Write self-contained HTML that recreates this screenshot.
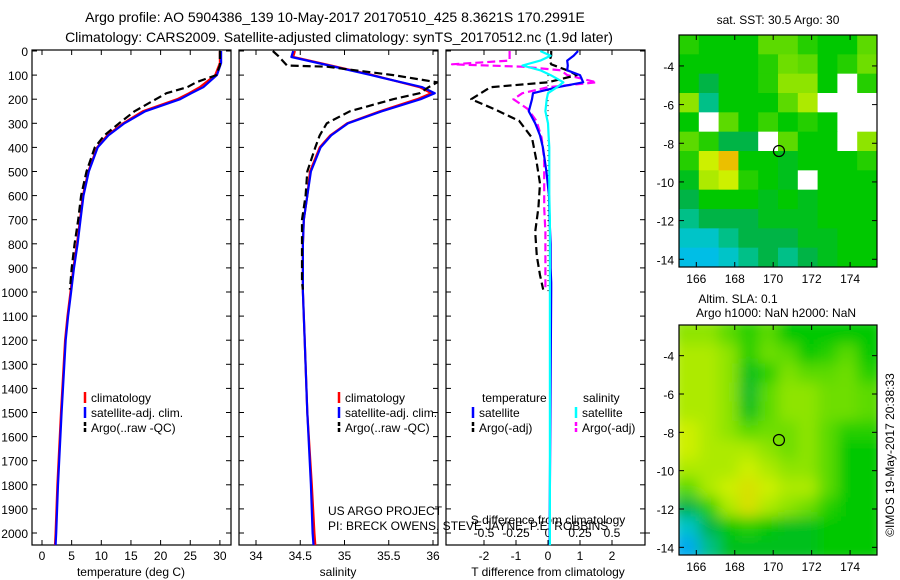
<!DOCTYPE html>
<html><head><meta charset="utf-8"><style>
body{margin:0;background:#fff;}
svg{display:block;font-family:"Liberation Sans",sans-serif;}
text{fill:#000;}
</style></head><body>
<svg id="chart" width="900" height="580" viewBox="0 0 900 580">
<text x="335" y="22" font-size="14" text-anchor="middle">Argo profile: AO 5904386_139 10-May-2017 20170510_425 8.3621S 170.2991E</text>
<text x="339" y="42" font-size="14" text-anchor="middle">Climatology: CARS2009. Satellite-adjusted climatology: synTS_20170512.nc (1.9d later)</text>
<g id="g"></g>
</svg>
<script>
// ---- data ----
var depthClim = [0,25,50,100,150,175,200,250,300,350,400,500,600,700,800,900,1000,1100,1200,1500,1800,2000,2050];
var tempClim  = [30,30,30,29.2,26.6,24.8,22.8,17,13.7,11,9.3,7.8,6.9,6.4,5.9,5.3,4.8,4.3,3.9,3.2,2.6,2.3,2.2];
var tempSat   = [30.2,30.2,30.2,29.5,27.2,25.2,23.3,17.4,13.9,11.2,9.4,7.9,7.0,6.5,6.0,5.4,4.9,4.4,4.0,3.3,2.7,2.4,2.3];
var salClim   = [34.44,34.42,34.72,35.32,35.85,35.98,35.82,35.4,35.03,34.84,34.72,34.61,34.58,34.54,34.53,34.53,34.53,34.54,34.55,34.58,34.63,34.66,34.67];
var salSat    = [34.42,34.40,34.70,35.30,35.88,36.02,35.86,35.42,35.04,34.85,34.73,34.62,34.58,34.54,34.53,34.53,34.53,34.54,34.55,34.58,34.62,34.64,34.65];
var depthArgo = [0,20,40,60,65,100,130,150,175,200,250,300,350,400,500,600,700,800,900,960,990];
var tempArgo  = [30,30,30,30,29.9,29.4,26,24.5,21,19.2,15.6,13,10.5,8.9,7.5,6.6,6.1,5.5,5.0,4.8,4.7];
var salArgo   = [34.19,34.25,34.30,34.35,34.8,35.55,36.05,35.95,35.85,35.55,35.06,34.8,34.72,34.67,34.58,34.56,34.52,34.52,34.52,34.52,34.53];
var depthDiff = [0,20,40,60,80,100,130,150,175,200,250,300,350,400,500,600,700,800,900,960,990,2000,2050];
var tDiffSat  = [0.94,0.8,0.6,0.62,0.6,1.0,1.1,0.3,-0.47,-0.5,-0.6,-0.4,-0.25,-0.16,-0.05,0.03,0.05,0.08,0.08,0.1,0.1,0.05,0.05];
var sDiffSat  = [-0.06,0.02,-0.06,-0.2,-0.06,0.02,0.12,0.07,0.0,-0.01,-0.02,0.0,0.005,0.01,0.01,0.01,0.015,0.015,0.015,0.015,0.015,0.015,0.015];
var depthDiffArgo = [0,20,40,55,65,80,100,130,150,175,200,240,290,360,450,550,650,750,850,930,990];
var tDiffArgo = [0.1,0.1,0.05,0.1,0.3,0.6,0.9,0.0,-1.8,-2.1,-2.4,-1.7,-0.9,-0.5,-0.37,-0.25,-0.3,-0.4,-0.35,-0.25,-0.15];
var sDiffArgo = [-0.3,-0.3,-0.3,-0.75,-0.2,0.1,0.15,0.38,0.0,-0.2,-0.27,-0.16,-0.09,-0.05,-0.03,-0.03,-0.03,-0.02,-0.02,-0.02,-0.02];
var depthTicks = [0,100,200,300,400,500,600,700,800,900,1000,1100,1200,1300,1400,1500,1600,1700,1800,1900,2000];
var tempTicks = [0,5,10,15,20,25,30];
var salTicks = [34,34.5,35,35.5,36];
var salTickLabels = ["34","34.5","35","35.5","36"];
var tdTicks = [-2,-1,0,1,2];
var sdTicks = [-0.5,-0.25,0,0.25,0.5];
var sdTickLabels = ["-0.5","-0.25","0","0.25","0.5"];
var lonTicks = [166,168,170,172,174];
var latTicks = [-4,-6,-8,-10,-12,-14];
var sstGrid = [
[.52,.5,.5,.5,.55,.55,.52,.5,.5,.55],
[.5,.5,.5,.5,.52,.56,.55,.5,.52,.56],
[.5,.45,.5,.5,.52,.58,.58,.5,null,.52],
[.58,.42,.5,.5,.5,.55,.6,null,null,null],
[.5,null,.55,.5,.53,.5,.52,.5,null,null],
[.55,.52,.45,.45,null,.55,.5,.5,null,.58],
[.52,.62,.68,.5,.5,.48,.5,.5,.5,.52],
[.48,.6,.62,.52,.5,.48,null,.5,.5,.5],
[.45,.5,.5,.5,.48,.5,.48,.5,.5,.5],
[.42,.45,.45,.45,.48,.48,.48,.5,.5,.5],
[.38,.38,.42,.45,.45,.45,.48,.48,.5,.5],
[.35,.35,.38,.42,.45,.42,.45,.48,.5,.5]];
var slaGrid = [
[.58,.58,.55,.52,.55,.5,.5,.5,.5,.5],
[.6,.6,.58,.52,.56,.55,.5,.52,.55,.5],
[.6,.6,.58,.48,.52,.57,.55,.55,.56,.52],
[.6,.6,.58,.47,.55,.58,.58,.56,.56,.55],
[.6,.6,.58,.48,.55,.58,.58,.56,.56,.55],
[.62,.6,.58,.55,.56,.56,.58,.55,.52,.52],
[.62,.6,.6,.6,.58,.56,.58,.55,.5,.5],
[.6,.6,.6,.62,.6,.58,.58,.55,.5,.5],
[.55,.6,.62,.64,.62,.6,.6,.55,.5,.5],
[.45,.52,.6,.64,.6,.58,.56,.52,.5,.5],
[.38,.45,.5,.52,.5,.48,.48,.5,.5,.5],
[.33,.42,.48,.48,.48,.48,.48,.5,.5,.5]];
var argoLon = 170.3, argoLat = -8.4;

// ---- drawing ----
var NS="http://www.w3.org/2000/svg";
var G=document.getElementById('g');
function el(t,a,p){var e=document.createElementNS(NS,t);for(var k in a)e.setAttribute(k,a[k]);(p||G).appendChild(e);return e;}
var yTop=51, yPer=24.1/100;
function yD(d){return yTop+d*yPer;}
var PY0=50, PY1=545;
function xT(v){return 42+v*5.93;}
function xS(v){return 256+(v-34)*88.5;}
function xTD(v){return 548+v*32;}
function xSD(v){return 548+v*128;}
var panels=[[32,231],[239,438],[446,645]];
panels.forEach(function(p,i){
  var r=el('rect',{x:p[0],y:PY0,width:p[1]-p[0],height:PY1-PY0,fill:'none',stroke:'#000','stroke-width':1.2});
  
  
  depthTicks.forEach(function(d){
    var y=yD(d);
    var t1=el('line',{x1:p[0],x2:p[0]+5,y1:y,y2:y,stroke:'#000'});
    
    
    el('line',{x1:p[1]-5,x2:p[1],y1:y,y2:y,stroke:'#000'});
  });
});
el('line',{x1:645,x2:650,y1:yD(2000),y2:yD(2000),stroke:'#000'});
depthTicks.forEach(function(d){
  var t=el('text',{x:28,y:yD(d)+5,'font-size':12,'text-anchor':'end'});t.textContent=d;
  
  
});
function xTicks(vals,labels,fx,ly){
  vals.forEach(function(v,i){var x=fx(v);
    el('line',{x1:x,x2:x,y1:PY1,y2:PY1-5,stroke:'#000'});
    el('line',{x1:x,x2:x,y1:PY0,y2:PY0+5,stroke:'#000'});
    if(ly){var t=el('text',{x:x,y:ly,'font-size':12,'text-anchor':'middle'});t.textContent=labels[i];
    
    }
  });
}
xTicks(tempTicks,tempTicks,xT,560);
xTicks(salTicks,salTickLabels,xS,560);
xTicks(tdTicks,tdTicks,xTD,560);
sdTicks.forEach(function(v,i){var t=el('text',{x:xSD(v),y:537,'font-size':12,'text-anchor':'middle'});t.textContent=sdTickLabels[i];
  
  });
function txt(s,x,y,sz,anc,name,extra){var t=el('text',Object.assign({x:x,y:y,'font-size':sz,'text-anchor':anc||'start'},extra||{}));t.textContent=s;
  
  return t;}
txt('temperature (deg C)',131,576,12,'middle','x-axis-title-temperature');
txt('salinity',338,576,12,'middle','x-axis-title-salinity');
txt('T difference from climatology',548,576,12,'middle','x-axis-title-t-diff');
txt('S difference from climatology',548,524,12,'middle','x-axis-title-s-diff');
txt('US ARGO PROJECT',328,515,12,'start','credit-project');
txt('PI: BRECK OWENS, STEVE JAYNE, P.E. ROBBINS',328,530,12,'start','credit-pi');

function poly(xs,ds,fx,col,dash,name){
  var pts=xs.map(function(v,i){return fx(v).toFixed(1)+','+yD(ds[i]).toFixed(1);}).join(' ');
  var a={points:pts,fill:'none',stroke:col,'stroke-width':2.2,'stroke-linejoin':'round'};
  if(dash)a['stroke-dasharray']=dash;
  var p=el('polyline',a);
  
  
}
poly(tempClim,depthClim,xT,'#f00',null,'temp-climatology-line');
poly(tempSat,depthClim,xT,'#00f',null,'temp-satellite-line');
poly(tempArgo,depthArgo,xT,'#000','8,4','temp-argo-line');
poly(salClim,depthClim,xS,'#f00',null,'sal-climatology-line');
poly(salSat,depthClim,xS,'#00f',null,'sal-satellite-line');
poly(salArgo,depthArgo,xS,'#000','8,4','sal-argo-line');
el('line',{x1:548,x2:548,y1:yD(100),y2:yD(1000),stroke:'#000','stroke-dasharray':'1,4'});
poly(sDiffArgo,depthDiffArgo,xSD,'#f0f','8,4','s-diff-argo-line');
poly(tDiffArgo,depthDiffArgo,xTD,'#000','8,4','t-diff-argo-line');
poly(tDiffSat,depthDiff,xTD,'#00f',null,'t-diff-satellite-line');
poly(sDiffSat,depthDiff,xSD,'#0ff',null,'s-diff-satellite-line');

function legend(x,y,items,name){
  items.forEach(function(it,i){var yy=y+i*15;
    var l=el('line',{x1:x,x2:x,y1:yy-10,y2:yy+1,stroke:it[1],'stroke-width':2.5});
    if(it[2])l.setAttribute('stroke-dasharray','4,2');
    
    
    txt(it[0],x+6,yy,12,'start',name+'-entry');
  });
}
var lg1=[['climatology','#f00'],['satellite-adj. clim.','#00f'],['Argo(..raw -QC)','#000',1]];
legend(85,402,lg1,'legend-temp');
legend(339,402,lg1,'legend-sal');
txt('temperature',482,402,12,'start','legend-temp-header');
txt('salinity',583,402,12,'start','legend-sal-header');
legend(473,417,[['satellite','#00f'],['Argo(-adj)','#000',1]],'legend-tdiff');
legend(576,417,[['satellite','#0ff'],['Argo(-adj)','#f0f',1]],'legend-sdiff');

// ---- maps ----
var stops=[[0.28,[0,120,255]],[0.35,[0,190,230]],[0.4,[0,200,180]],[0.45,[0,180,70]],[0.5,[0,200,0]],[0.56,[110,222,0]],[0.62,[205,240,0]],[0.7,[245,175,0]],[0.85,[200,0,0]]];
function cmap(v){
  if(v<=stops[0][0])return 'rgb('+stops[0][1]+')';
  for(var i=1;i<stops.length;i++){if(v<=stops[i][0]){var a=stops[i-1],b=stops[i],f=(v-a[0])/(b[0]-a[0]);
    return 'rgb('+[0,1,2].map(function(k){return Math.round(a[1][k]+f*(b[1][k]-a[1][k]));})+')';}}
  return 'rgb('+stops[stops.length-1][1]+')';
}
var LON0=165.1,LON1=175.4,LAT0=-2.4,LAT1=-14.4;
function drawMap(top,bot,grid,name,blur){
  var L=679,R=877;
  function mx(lon){return L+(lon-LON0)/(LON1-LON0)*(R-L);}
  function my(lat){return top+(lat-LAT0)/(LAT1-LAT0)*(bot-top);}
  var cid='clip'+name;
  var defs=el('defs',{});
  var cp=el('clipPath',{id:cid},defs);el('rect',{x:L,y:top,width:R-L,height:bot-top},cp);
  if(blur){var f=el('filter',{id:'bl'+name,x:'-10%',y:'-10%',width:'120%',height:'120%'},defs);el('feGaussianBlur',{stdDeviation:7},f);}
  var outer=el('g',{'clip-path':'url(#'+cid+')'});
  var g=el('g',blur?{filter:'url(#bl'+name+')'}:{},outer);
  var rows=grid.length,cols=grid[0].length;
  var dlon=(LON1-LON0)/cols,dlat=(LAT1-LAT0)/rows;
  grid.forEach(function(row,r){row.forEach(function(v,c){
    var x0=mx(LON0+c*dlon),x1=mx(LON0+(c+1)*dlon),y0=my(LAT0+r*dlat),y1=my(LAT0+(r+1)*dlat);
    var pad=blur?8:0;
    var cx0=c==0?x0-pad:x0,cx1=c==cols-1?x1+pad:x1,cy0=r==0?y0-pad:y0,cy1=r==rows-1?y1+pad:y1;
    var cell=el('rect',{x:cx0,y:cy0,width:cx1-cx0+0.5,height:cy1-cy0+0.5,fill:v===null?'#fff':cmap(v)},g);
    
    
  });});
  var fr=el('rect',{x:L,y:top,width:R-L,height:bot-top,fill:'none',stroke:'#000','stroke-width':1.2});
  
  
  lonTicks.forEach(function(v){var x=mx(v);
    el('line',{x1:x,x2:x,y1:top,y2:top+5,stroke:'#000'});el('line',{x1:x,x2:x,y1:bot,y2:bot-5,stroke:'#000'});
    txt(String(v),x,bot+16,12,'middle',name+'-lon-label');});
  latTicks.forEach(function(v){var y=my(v);
    el('line',{x1:L,x2:L+5,y1:y,y2:y,stroke:'#000'});el('line',{x1:R-5,x2:R,y1:y,y2:y,stroke:'#000'});
    txt(String(v),L-5,y+5,12,'end',name+'-lat-label');});
  var c=el('circle',{cx:mx(argoLon),cy:my(argoLat),r:5.5,fill:'none',stroke:'#000','stroke-width':1.2});
  
  
}
drawMap(35,267,sstGrid,'sst-map',false);
drawMap(325,555,slaGrid,'sla-map',true);
txt('sat. SST: 30.5 Argo: 30',778,24,12,'middle','sst-map-title');
txt('Altim. SLA: 0.1',738,303,12,'middle','sla-map-title-1');
txt('Argo h1000: NaN h2000: NaN',776,317,12,'middle','sla-map-title-2');
txt('\u00a9IMOS 19-May-2017 20:38:33',894,455,12,'middle','timestamp',{transform:'rotate(-90 894 455)'});
</script>
</body></html>
